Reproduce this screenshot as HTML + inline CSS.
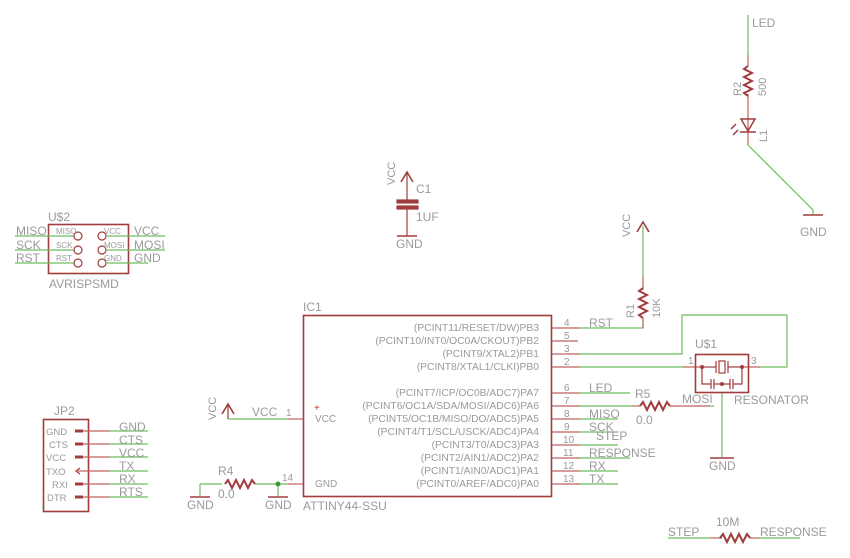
<!DOCTYPE html>
<html><head><style>html,body{margin:0;padding:0;background:#fff}svg{display:block}</style></head><body>
<svg width="850" height="558" viewBox="0 0 850 558" xmlns="http://www.w3.org/2000/svg" font-family="Liberation Sans, sans-serif" font-size="11" fill="#9a9a9a">
<defs>
<g id="rh"><polyline points="0,0 3,-4 7,4 11,-4 15,4 19,-4 23,4 27,-4 30,0" fill="none" stroke="#a03c3c" stroke-width="2"/></g>
<g id="rv"><polyline points="0,0 -4,3 4,7 -4,11 4,15 -4,19 4,23 -4,27 0,30" fill="none" stroke="#a03c3c" stroke-width="2"/></g>
</defs>
<g fill="none" stroke-width="1.2">
<rect x="303.5" y="315.5" width="248" height="181" stroke="#a03c3c" stroke-width="1.6"/>
<g stroke="#c06060">
<line x1="552" y1="328" x2="580" y2="328"/><line x1="552" y1="341" x2="578" y2="341"/>
<line x1="552" y1="354" x2="580" y2="354"/><line x1="552" y1="367" x2="580" y2="367"/>
<line x1="552" y1="393" x2="580" y2="393"/><line x1="552" y1="406" x2="580" y2="406"/>
<line x1="552" y1="419" x2="580" y2="419"/><line x1="552" y1="432" x2="580" y2="432"/>
<line x1="552" y1="445" x2="580" y2="445"/><line x1="552" y1="458" x2="580" y2="458"/>
<line x1="552" y1="471" x2="580" y2="471"/><line x1="552" y1="484" x2="580" y2="484"/>
</g>
<g stroke="#6cbf5c">
<polyline points="580,328 643,328 643,320"/>
<polyline points="580,354 682,354 682,315 787,315 787,367 760,367"/>
<line x1="580" y1="367" x2="683" y2="367"/>
<line x1="580" y1="393" x2="630" y2="393"/>
<line x1="580" y1="406" x2="632" y2="406"/>
<line x1="580" y1="419" x2="618" y2="419"/>
<line x1="580" y1="432" x2="618" y2="432"/>
<line x1="580" y1="445" x2="618" y2="445"/>
<line x1="580" y1="458" x2="630" y2="458"/>
<line x1="580" y1="471" x2="618" y2="471"/>
<line x1="580" y1="484" x2="618" y2="484"/>
<line x1="710" y1="406" x2="714" y2="406"/>
<line x1="722" y1="392" x2="722" y2="457"/>
</g>
<g stroke="#c06060">
<line x1="632" y1="406" x2="640" y2="406"/><line x1="670" y1="406" x2="710" y2="406"/>
<line x1="683" y1="367" x2="700" y2="367"/><line x1="743" y1="367" x2="760" y2="367"/>
</g>
<use href="#rh" x="640" y="406"/>
<rect x="695.5" y="354.5" width="53" height="38" stroke="#a03c3c" stroke-width="1.6"/>
<g stroke="#a03c3c">
<line x1="702" y1="367" x2="716" y2="367"/><line x1="716" y1="361" x2="716" y2="373"/>
<rect x="719" y="361" width="6" height="12"/><line x1="728" y1="361" x2="728" y2="373"/>
<line x1="728" y1="367" x2="742" y2="367"/>
<polyline points="702,367 702,384 711,384"/><line x1="711" y1="379" x2="711" y2="389"/><line x1="714" y1="379" x2="714" y2="389"/>
<line x1="714" y1="384" x2="730" y2="384"/><line x1="730" y1="379" x2="730" y2="389"/><line x1="733" y1="379" x2="733" y2="389"/>
<polyline points="733,384 742,384 742,367"/>
<line x1="710" y1="458" x2="734" y2="458" stroke-width="1.6"/>
</g>
<g fill="#a03c3c" stroke="none"><circle cx="702" cy="367" r="2"/><circle cx="742" cy="367" r="2"/><circle cx="722" cy="384" r="2"/></g>
<g stroke="#6cbf5c"><line x1="643" y1="226" x2="643" y2="276"/></g>
<g stroke="#c06060"><line x1="643" y1="276" x2="643" y2="290"/><line x1="643" y1="318" x2="643" y2="328"/></g>
<use href="#rv" x="643" y="288"/>
<polyline points="637,232 643,222 649,232" stroke="#a03c3c" stroke-width="1.6"/>
<g stroke="#a03c3c">
<polyline points="401,182 407,172 413,182" stroke-width="1.6"/>
<line x1="407" y1="172" x2="407" y2="200"/>
<rect x="397" y="200" width="21" height="3" fill="#a03c3c"/><rect x="397" y="206" width="21" height="3" fill="#a03c3c"/>
<line x1="407" y1="209" x2="407" y2="236"/><line x1="397" y1="236" x2="417" y2="236" stroke-width="1.6"/>
</g>
<line x1="748" y1="15" x2="748" y2="55" stroke="#6cbf5c"/>
<g stroke="#c06060"><line x1="748" y1="55" x2="748" y2="66"/><line x1="748" y1="94" x2="748" y2="145"/></g>
<use href="#rv" x="748" y="66"/>
<g stroke="#a03c3c" stroke-width="1.5">
<polygon points="741,119 755,119 748,131"/><line x1="740" y1="132" x2="756" y2="132"/>
<line x1="736" y1="124" x2="731" y2="129"/><line x1="738" y1="130" x2="733" y2="135"/>
</g>
<polyline points="748,145 813,210 813,215" stroke="#6cbf5c"/>
<line x1="803" y1="215" x2="823" y2="215" stroke="#a03c3c" stroke-width="1.6"/>
<polyline points="222,414 228,404 234,414" stroke="#a03c3c" stroke-width="1.6"/>
<line x1="228" y1="404" x2="228" y2="419" stroke="#a03c3c"/>
<line x1="228" y1="419" x2="288" y2="419" stroke="#6cbf5c"/>
<line x1="288" y1="419" x2="303" y2="419" stroke="#c06060"/>
<line x1="200" y1="484" x2="222" y2="484" stroke="#6cbf5c"/>
<use href="#rh" x="225" y="484"/>
<line x1="255" y1="484" x2="288" y2="484" stroke="#6cbf5c"/>
<line x1="288" y1="484" x2="303" y2="484" stroke="#c06060"/>
<line x1="200" y1="484" x2="200" y2="496" stroke="#6cbf5c"/>
<line x1="278" y1="484" x2="278" y2="496" stroke="#6cbf5c"/>
<g stroke="#a03c3c" stroke-width="1.6"><line x1="190" y1="497" x2="210" y2="497"/><line x1="268" y1="497" x2="288" y2="497"/></g>
<circle cx="278" cy="484" r="2.5" fill="#3a9a30" stroke="none"/>
<rect x="43.5" y="419.5" width="45" height="92" stroke="#a03c3c" stroke-width="1.6"/>
<g stroke="#c06060"><line x1="78" y1="431" x2="110" y2="431"/><line x1="78" y1="444" x2="110" y2="444"/><line x1="78" y1="457" x2="110" y2="457"/><line x1="78" y1="471" x2="110" y2="471"/><line x1="78" y1="484" x2="110" y2="484"/><line x1="78" y1="497" x2="110" y2="497"/></g>
<g stroke="#6cbf5c"><line x1="110" y1="431" x2="148" y2="431"/><line x1="110" y1="444" x2="148" y2="444"/><line x1="110" y1="457" x2="148" y2="457"/><line x1="110" y1="471" x2="148" y2="471"/><line x1="110" y1="484" x2="148" y2="484"/><line x1="110" y1="497" x2="148" y2="497"/></g>
<g stroke="#a03c3c" stroke-width="3"><line x1="75" y1="431" x2="83" y2="431"/><line x1="75" y1="444" x2="83" y2="444"/><line x1="75" y1="457" x2="83" y2="457"/><line x1="75" y1="484" x2="83" y2="484"/><line x1="75" y1="497" x2="83" y2="497"/></g>
<polyline points="80,468 76,471 80,474" stroke="#a03c3c" stroke-width="1.2"/>
<rect x="48.5" y="224.5" width="80" height="49" stroke="#a03c3c" stroke-width="1.6"/>
<g stroke="#6cbf5c"><line x1="15" y1="236" x2="74" y2="236"/><line x1="15" y1="250" x2="74" y2="250"/><line x1="15" y1="263" x2="74" y2="263"/>
<line x1="107" y1="236" x2="165" y2="236"/><line x1="107" y1="250" x2="165" y2="250"/><line x1="107" y1="263" x2="148" y2="263"/></g>
<g stroke="#a03c3c"><circle cx="78" cy="236" r="4"/><circle cx="78" cy="250" r="4"/><circle cx="78" cy="263" r="4"/><circle cx="102" cy="236" r="4"/><circle cx="102" cy="250" r="4"/><circle cx="102" cy="263" r="4"/></g>
<line x1="668" y1="538" x2="710" y2="538" stroke="#6cbf5c"/>
<line x1="710" y1="538" x2="722" y2="538" stroke="#c06060"/>
<use href="#rh" x="720" y="538"/>
<line x1="750" y1="538" x2="760" y2="538" stroke="#c06060"/>
<line x1="760" y1="538" x2="800" y2="538" stroke="#6cbf5c"/>
</g>
<g font-size="10.3" text-anchor="end">
<text x="539" y="331">(PCINT11/RESET/DW)PB3</text>
<text x="539" y="344">(PCINT10/INT0/OC0A/CKOUT)PB2</text>
<text x="539" y="357">(PCINT9/XTAL2)PB1</text>
<text x="539" y="370">(PCINT8/XTAL1/CLKI)PB0</text>
<text x="539" y="396">(PCINT7/ICP/OC0B/ADC7)PA7</text>
<text x="539" y="409">(PCINT6/OC1A/SDA/MOSI/ADC6)PA6</text>
<text x="539" y="422">(PCINT5/OC1B/MISO/DO/ADC5)PA5</text>
<text x="539" y="435">(PCINT4/T1/SCL/USCK/ADC4)PA4</text>
<text x="539" y="448">(PCINT3/T0/ADC3)PA3</text>
<text x="539" y="461">(PCINT2/AIN1/ADC2)PA2</text>
<text x="539" y="474">(PCINT1/AIN0/ADC1)PA1</text>
<text x="539" y="487">(PCINT0/AREF/ADC0)PA0</text>
</g>
<g font-size="10">
<text x="564" y="326">4</text><text x="564" y="339">5</text><text x="564" y="352">3</text><text x="564" y="365">2</text>
<text x="564" y="391">6</text><text x="564" y="404">7</text><text x="564" y="417">8</text><text x="564" y="430">9</text>
<text x="563" y="443">10</text><text x="563" y="456">11</text><text x="563" y="469">12</text><text x="563" y="482">13</text>
<text x="315" y="422">VCC</text><text x="315" y="487">GND</text>
<text x="286" y="416">1</text><text x="282" y="481">14</text>
<text x="688" y="364">1</text><text x="751" y="364">3</text>
</g>
<text x="314" y="411" fill="#c04040" font-size="10">+</text>
<g font-size="12">
<text x="589" y="327">RST</text><text x="589" y="392">LED</text><text x="589" y="418">MISO</text><text x="589" y="431">SCK</text>
<text x="596" y="440">STEP</text><text x="589" y="457">RESPONSE</text><text x="589" y="470">RX</text><text x="589" y="483">TX</text>
<text x="635" y="398">R5</text><text x="636" y="424">0.0</text>
<text x="682" y="403">MOSI</text><text x="734" y="404">RESONATOR</text>
<text x="695" y="348">U$1</text><text x="709" y="470">GND</text>
<text x="303" y="311">IC1</text><text x="303" y="510">ATTINY44-SSU</text>
<text x="252" y="416">VCC</text>
<text x="218" y="475">R4</text><text x="218" y="498">0.0</text>
<text x="187" y="509">GND</text><text x="265" y="509">GND</text>
<text x="54" y="415">JP2</text>
<text x="119" y="431">GND</text><text x="119" y="444">CTS</text><text x="119" y="457">VCC</text><text x="119" y="470">TX</text><text x="119" y="483">RX</text><text x="119" y="496">RTS</text>
<text x="48" y="221">U$2</text><text x="49" y="288">AVRISPSMD</text>
<text x="16" y="235">MISO</text><text x="16" y="249">SCK</text><text x="16" y="262">RST</text>
<text x="134" y="235">VCC</text><text x="134" y="249">MOSI</text><text x="134" y="262">GND</text>
<text x="416" y="193">C1</text><text x="416" y="221">1UF</text><text x="396" y="248">GND</text>
<text x="752" y="27">LED</text><text x="800" y="236">GND</text>
<text x="668" y="536">STEP</text><text x="716" y="526">10M</text><text x="760" y="536">RESPONSE</text>
</g>
<g font-size="9.5">
<text x="46" y="435">GND</text><text x="49" y="448">CTS</text><text x="46" y="461">VCC</text><text x="46" y="475">TXO</text><text x="52" y="488">RXI</text><text x="47" y="501">DTR</text>
</g>
<g font-size="8">
<text x="56" y="234">MISO</text><text x="56" y="248">SCK</text><text x="56" y="261">RST</text>
<text x="104" y="234">VCC</text><text x="104" y="248">MOSI</text><text x="104" y="261">GND</text>
</g>
<g font-size="11">
<text transform="translate(395,185) rotate(-90)">VCC</text>
<text transform="translate(630,237) rotate(-90)">VCC</text>
<text transform="translate(216,420) rotate(-90)">VCC</text>
<text transform="translate(634,318) rotate(-90)">R1</text>
<text transform="translate(660,318) rotate(-90)">10K</text>
<text transform="translate(741,96) rotate(-90)">R2</text>
<text transform="translate(766,96) rotate(-90)">500</text>
<text transform="translate(767,142) rotate(-90)">L1</text>
</g>
</svg>
</body></html>
